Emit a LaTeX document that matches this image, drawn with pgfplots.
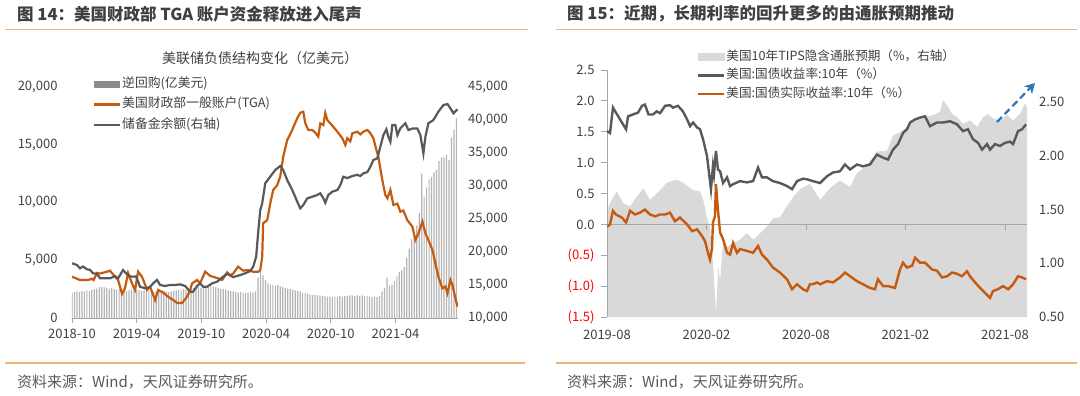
\documentclass[border=0pt]{standalone}
\usepackage{fontspec}
\setmainfont{Noto Sans CJK SC}
\usepackage{pgfplots}
\pgfplotsset{compat=1.18}
\usetikzlibrary{arrows.meta}
\definecolor{tforange}{HTML}{C55A11}
\definecolor{tfgrey}{HTML}{595959}
\definecolor{barg}{HTML}{B4B4B4}
\definecolor{barleg}{HTML}{8C8C8C}
\definecolor{areag}{HTML}{D9D9D9}
\definecolor{rulec}{HTML}{F0B478}
\definecolor{txt}{HTML}{404040}
\definecolor{axg}{HTML}{A6A6A6}
\definecolor{arrowblue}{HTML}{2E75B6}
\definecolor{negred}{HTML}{FF0000}
\pgfplotsset{
  base/.style={scale only axis, /pgf/number format/assume math mode=true,
    tick label style={font=\fontsize{13}{13}\selectfont, text=txt},
    scaled y ticks=false, scaled x ticks=false},
  patchleg/.style={legend image code/.code={\fill[#1] (0pt,-3.5pt) rectangle (26pt,3.5pt);}},
  lineleg/.style={legend image code/.code={\draw[##1] (0pt,0pt) -- (26pt,0pt);}},
}
\begin{document}
\begin{tikzpicture}[x=1pt,y=1pt]
\path[use as bounding box] (0,0) rectangle (1080,-396);
% titles and rules
\node[anchor=west, inner sep=0, text=txt, font=\fontsize{16.5}{18}\selectfont\bfseries] at (17,-14) {图 14：美国财政部 TGA 账户资金释放进入尾声};
\node[anchor=west, inner sep=0, text=txt, font=\fontsize{16.5}{18}\selectfont\bfseries] at (567,-14) {图 15：近期，长期利率的回升更多的由通胀预期推动};
\draw[rulec, line width=1.8pt] (5,-29.5) -- (528,-29.5);
\draw[rulec, line width=1.8pt] (556,-29.5) -- (1077,-29.5);
\draw[rulec, line width=2pt] (5,-363) -- (525,-363);
\draw[rulec, line width=2pt] (556,-363) -- (1077,-363);
\node[anchor=west, inner sep=0, text=tfgrey, font=\fontsize{15}{16}\selectfont] at (17,-382) {资料来源：Wind，天风证券研究所。};
\node[anchor=west, inner sep=0, text=tfgrey, font=\fontsize{15}{16}\selectfont] at (567,-382) {资料来源：Wind，天风证券研究所。};
\node[inner sep=0, text=txt, font=\fontsize{14}{15}\selectfont] at (260,-58) {美联储负债结构变化（亿美元）};

% ===== Left chart, left axis =====
\begin{axis}[base,
  at={(72pt,-318pt)}, anchor=south west, width=386pt, height=231pt,
  xmin=0, xmax=35.8, ymin=0, ymax=20000,
  axis x line*=bottom, axis y line*=left,
  y axis line style={draw=none},
  x axis line style={draw=axg, line width=1pt},
  tick align=outside, major tick length=5pt,
  xtick={0,6,12,18,24,30},
  xticklabels={2018-10,2019-04,2019-10,2020-04,2020-10,2021-04},
  xtick style={draw=axg, line width=0.8pt},
  xticklabel style={yshift=-3pt},
  ytick={0,5000,10000,15000,20000},
  ytick style={draw=none},
  yticklabel style={/pgf/number format/fixed, /pgf/number format/1000 sep={,}, xshift=-6pt},
  legend style={at={(0.054,1.045)}, anchor=north west, draw=none, fill=none,
    font=\fontsize{12.8}{14}\selectfont, text=txt, inner sep=0pt, row sep=6pt,
    nodes={inner sep=1pt, text height=9.5pt, text depth=3pt}},
  legend cell align=left,
]
\addplot[ybar, bar width=1.2pt, fill=barg, draw=none, patchleg=barleg] coordinates {
(0.00,2200)(0.23,2250)(0.46,2300)(0.69,2250)(0.92,2350)(1.15,2300)(1.38,2400)(1.61,2350)
(1.84,2450)(2.07,2500)(2.30,2550)(2.53,2650)(2.76,2700)(2.99,2650)(3.22,2600)(3.45,2550)
(3.68,2600)(3.91,2500)(4.14,2450)(4.37,2500)(4.60,2400)(4.83,2450)(5.06,2350)(5.29,2400)
(5.52,2450)(5.75,2400)(5.98,2450)(6.21,2400)(6.44,2350)(6.67,2400)(6.90,2300)(7.13,2350)
(7.36,2300)(7.59,2250)(7.82,2300)(8.05,2250)(8.28,2300)(8.51,2350)(8.74,2300)(8.97,2250)
(9.20,2300)(9.43,2350)(9.66,2400)(9.89,2450)(10.12,2400)(10.35,2500)(10.58,2450)(10.81,2500)
(11.04,2550)(11.27,2600)(11.50,2550)(11.73,2650)(11.96,2600)(12.19,2700)(12.42,2650)(12.65,2700)
(12.88,2750)(13.11,2700)(13.34,2650)(13.57,2600)(13.80,2550)(14.03,2500)(14.26,2450)(14.49,2400)
(14.72,2350)(14.95,2300)(15.18,2250)(15.41,2200)(15.64,2250)(15.87,2200)(16.10,2150)(16.33,2200)
(16.56,2250)(16.79,2200)(17.02,2300)(17.25,3500)(17.48,4200)(17.71,3700)(17.94,3300)(18.17,3000)
(18.40,2900)(18.63,2850)(18.86,2800)(19.09,2850)(19.32,2750)(19.55,2700)(19.78,2600)(20.01,2550)
(20.24,2500)(20.47,2450)(20.70,2400)(20.93,2350)(21.16,2300)(21.39,2200)(21.62,2150)(21.85,2100)
(22.08,2050)(22.31,2000)(22.54,2000)(22.77,1950)(23.00,1950)(23.23,1900)(23.46,1900)(23.69,1850)
(23.92,1850)(24.15,1800)(24.38,1850)(24.61,1850)(24.84,1900)(25.07,1850)(25.30,1900)(25.53,1900)
(25.76,1950)(25.99,1950)(26.22,1900)(26.45,1950)(26.68,1900)(26.91,1950)(27.14,1900)(27.37,1900)
(27.60,1850)(27.83,1800)(28.06,1850)(28.29,1800)(28.52,1900)(28.75,2300)(28.98,2600)(29.21,3500)
(29.44,2800)(29.67,2900)(29.90,3200)(30.13,3600)(30.36,4000)(30.59,4150)(30.82,4400)(31.05,5200)
(31.28,6000)(31.51,6800)(31.74,7400)(31.97,8000)(32.20,9100)(32.43,12500)(32.66,10500)(32.89,11300)
(33.12,12000)(33.35,12200)(33.58,12600)(33.81,12800)(34.04,13600)(34.27,13900)(34.50,13900)(34.73,14100)
(34.96,13700)(35.19,15600)(35.42,16300)(35.65,17300)
};
\addlegendentry{逆回购(亿美元)}
\addplot[tforange, line width=2.2pt, lineleg] coordinates {
(0,3575)(0.74,3290)(1.49,3290)(1.86,3400)(2.00,3290)(2.32,3900)(2.60,3850)(3.25,4010)(3.53,4100)
(3.99,3560)(4.27,3300)(4.64,2080)(4.92,2600)(5.20,3900)(5.66,2770)(5.85,2430)(6.13,4010)(6.50,3560)
(6.96,2430)(7.24,2700)(7.71,1560)(7.99,2430)(8.45,2200)(8.91,1850)(9.38,1560)(9.75,1300)(10.21,1300)
(10.68,1850)(10.96,2430)(11.14,3000)(11.61,3290)(11.88,3000)(12.35,4010)(12.81,3650)(13.46,3460)
(13.93,3300)(14.39,3950)(14.67,3700)(14.95,3850)(15.41,4440)(15.88,4100)(16.34,4150)(16.81,4000)
(17.27,4000)(17.46,4150)(17.64,5300)(17.73,8200)(18.11,8480)(18.38,9900)(18.66,11080)(19.03,11500)
(19.31,12230)(19.59,13960)(19.96,15400)(20.43,16280)(20.52,16500)(20.89,17300)(21.17,17770)(21.45,17860)
(21.63,16880)(21.91,16280)(22.28,16280)(22.56,16050)(22.84,15700)(23.03,16850)(23.31,16700)(23.49,17750)
(23.68,17140)(23.96,16850)(24.23,16560)(24.61,16130)(25.07,15560)(25.35,14980)(25.53,15560)(25.81,15300)
(26.00,15990)(26.46,16130)(26.74,15900)(27.02,16130)(27.39,16280)(27.67,16000)(27.95,15560)(28.23,14550)
(28.41,13960)(28.78,11950)(29.06,10650)(29.25,10360)(29.53,11080)(29.81,9780)(30.18,9900)(30.45,9200)
(30.73,9300)(31.10,8480)(31.57,7900)(31.85,6750)(32.13,7330)(32.50,8340)(32.78,7330)(33.05,6750)
(33.43,5890)(33.70,4740)(33.98,3580)(34.35,2570)(34.63,2720)(34.82,2140)(35.10,3290)(35.28,2900)
(35.56,1700)(35.75,980)
};
\addlegendentry{美国财政部一般账户(TGA)}
\addlegendimage{tfgrey, line width=2.2pt, lineleg}
\addlegendentry{储备金余额(右轴)}
\end{axis}

% ===== Left chart, right axis =====
\begin{axis}[base,
  at={(72pt,-318pt)}, anchor=south west, width=386pt, height=231pt,
  xmin=0, xmax=35.8, ymin=10000, ymax=45000,
  hide x axis, axis y line*=right,
  y axis line style={draw=none}, ytick style={draw=none},
  tick align=outside, major tick length=5pt,
  ytick={10000,15000,20000,25000,30000,35000,40000,45000},
  yticklabel style={/pgf/number format/fixed, /pgf/number format/1000 sep={,}, xshift=1.5pt},
]
\addplot[tfgrey, line width=2.2pt] coordinates {
(0,18290)(0.46,18030)(0.74,17530)(1.02,17800)(1.39,17380)(1.67,17300)(1.95,16770)(2.32,16700)
(2.60,16010)(3.06,16010)(3.53,16010)(3.99,16360)(4.27,16010)(4.74,17270)(5.01,16770)(5.39,16300)
(5.66,16260)(5.94,16300)(6.31,14740)(6.78,14500)(7.24,14700)(7.52,15250)(7.89,15760)(8.17,15000)
(8.63,14850)(9.10,15000)(9.56,15000)(10.03,15100)(10.49,14850)(10.96,13990)(11.23,13990)(11.61,14850)
(11.88,15250)(12.16,14750)(12.53,14750)(13.00,15250)(13.46,15500)(14.02,16260)(14.39,16700)(14.95,16200)
(15.60,16510)(16.06,16770)(16.53,17120)(16.81,17780)(17.08,19290)(17.27,23000)(17.46,26360)(17.64,27370)
(17.92,30400)(18.38,31410)(18.85,32420)(19.31,33030)(19.59,32420)(19.96,30900)(20.43,29390)(20.89,27620)
(21.17,26620)(21.45,27120)(21.82,28130)(22.28,28380)(22.75,28640)(23.03,28900)(23.31,28130)(23.49,27470)
(23.77,28640)(24.14,29140)(24.61,29390)(24.89,30150)(25.16,31410)(25.53,31200)(26.00,31510)(26.46,31700)
(26.74,31510)(27.02,31920)(27.39,32100)(27.67,32920)(27.95,33940)(28.32,34200)(28.60,35960)(28.88,37720)
(29.16,38580)(29.34,37470)(29.53,36710)(29.71,39240)(29.99,39240)(30.18,37720)(30.45,38740)(30.92,39500)
(31.20,38480)(31.57,38700)(32.03,38700)(32.31,37720)(32.59,34950)(32.78,37470)(33.05,39500)(33.52,40000)
(33.98,41260)(34.45,42270)(34.82,42420)(35.10,41770)(35.38,41010)(35.75,41620)
};
\end{axis}

% ===== Right chart, right axis (area) =====
\begin{axis}[base,
  at={(607pt,-317pt)}, anchor=south west, width=420pt, height=247pt,
  xmin=0, xmax=25.33, ymin=0.5, ymax=2.8,
  hide x axis, axis y line*=right,
  y axis line style={draw=none}, ytick style={draw=none},
  tick align=outside, major tick length=6pt,
  ytick={0.5,1.0,1.5,2.0,2.5},
  yticklabel style={/pgf/number format/fixed, /pgf/number format/fixed zerofill, /pgf/number format/precision=2, xshift=2.5pt},
]
\addplot[fill=areag, draw=none] coordinates {
(0,0.5)(0,1.50)(0.28,1.59)(0.58,1.67)(0.98,1.56)(1.39,1.53)(1.79,1.62)(2.19,1.70)(2.59,1.59)(3.20,1.68)
(3.60,1.75)(4.00,1.77)(4.20,1.78)(4.60,1.75)(5.21,1.68)(5.61,1.67)(5.81,1.59)(6.01,1.43)(6.21,1.34)
(6.41,0.97)(6.57,0.54)(6.71,0.97)(6.82,0.84)(7.01,1.22)(7.22,1.15)(7.62,1.19)(8.02,1.22)(8.43,1.28)
(8.82,1.22)(9.23,1.28)(9.63,1.34)(10.03,1.42)(10.43,1.43)(10.84,1.53)(11.24,1.62)(11.64,1.69)
(12.24,1.74)(12.85,1.59)(13.45,1.70)(14.05,1.77)(14.66,1.71)(15.08,1.84)(15.68,1.91)(16.28,2.04)
(16.89,2.05)(17.25,2.19)(17.67,2.22)(18.09,2.27)(18.58,2.35)(19.06,2.36)(19.66,2.38)(20.08,2.41)
(20.27,2.52)(20.51,2.47)(20.81,2.39)(21.11,2.36)(21.47,2.30)(21.89,2.33)(22.32,2.27)(22.68,2.36)
(22.98,2.39)(23.28,2.35)(23.70,2.33)(24.13,2.38)(24.49,2.33)(24.91,2.39)(25.21,2.49)(25.33,2.45)(25.33,0.5)
};
\end{axis}

% ===== Right chart, left axis (lines) =====
\begin{axis}[base,
  at={(607pt,-317pt)}, anchor=south west, width=420pt, height=247pt,
  xmin=0, xmax=25.33, ymin=-1.5, ymax=2.5,
  axis x line*=middle, axis y line*=left, hide obscured x ticks=false,
  y axis line style={draw=axg, line width=1pt},
  x axis line style={draw=axg, line width=1.3pt, -},
  tick align=outside, major tick length=6pt,
  xtick={0,6,12,18,24},
  xticklabels={2019-08,2020-02,2020-08,2021-02,2021-08},
  xtick style={draw=axg, line width=0.8pt},
  ytick style={draw=axg, line width=0.8pt},
  xticklabel style={yshift=-96pt},
  ytick={-1.5,-1,-0.5,0,0.5,1,1.5,2,2.5},
  yticklabels={\textcolor{negred}{(1.5)},\textcolor{negred}{(1.0)},\textcolor{negred}{(0.5)},0.0,0.5,1.0,1.5,2.0,2.5},
  yticklabel style={xshift=-3pt},
  legend style={at={(0.214,1.083)}, anchor=north west, draw=none, fill=none,
    font=\fontsize{12.6}{14}\selectfont, text=txt, inner sep=0pt, row sep=4pt,
    nodes={inner sep=1pt, text height=9.5pt, text depth=3pt}},
  legend cell align=left,
]
\addlegendimage{patchleg=areag}
\addlegendentry{美国10年TIPS隐含通胀预期（\%，右轴）}
\addplot[tfgrey, line width=2.4pt, lineleg] coordinates {
(0,1.51)(0.18,1.48)(0.36,1.89)(0.54,1.81)(0.90,1.65)(1.15,1.54)(1.27,1.75)(1.57,1.78)(1.87,1.81)
(2.11,1.92)(2.29,1.94)(2.50,1.78)(2.77,1.78)(3.00,1.83)(3.20,1.80)(3.50,1.92)(3.80,1.93)(3.98,1.89)
(4.28,1.92)(4.58,1.83)(4.83,1.70)(5.01,1.59)(5.19,1.65)(5.43,1.57)(5.61,1.54)(5.79,1.38)(6.03,1.11)
(6.15,0.84)(6.27,0.57)(6.39,0.94)(6.45,0.81)(6.57,1.19)(6.69,0.89)(6.82,0.86)(7.00,0.67)(7.24,0.76)
(7.42,0.62)(7.60,0.65)(8.02,0.70)(8.44,0.68)(8.81,0.70)(9.11,0.92)(9.35,0.76)(9.65,0.76)(10.01,0.70)
(10.43,0.67)(10.86,0.62)(11.16,0.57)(11.46,0.70)(11.82,0.74)(12.06,0.73)(12.42,0.70)(12.85,0.67)
(13.27,0.78)(13.63,0.84)(14.05,0.86)(14.35,0.97)(14.66,0.89)(15.08,0.97)(15.44,0.94)(15.86,0.97)
(16.28,1.13)(16.65,1.08)(16.95,1.05)(17.25,1.21)(17.55,1.30)(17.85,1.48)(18.09,1.54)(18.28,1.65)
(18.58,1.70)(18.88,1.73)(19.18,1.75)(19.48,1.59)(19.90,1.65)(20.27,1.65)(20.69,1.67)(21.11,1.62)
(21.47,1.51)(21.77,1.54)(22.07,1.38)(22.38,1.32)(22.62,1.21)(22.92,1.30)(23.10,1.21)(23.40,1.30)
(23.70,1.27)(24.00,1.32)(24.31,1.34)(24.49,1.30)(24.79,1.51)(25.03,1.54)(25.27,1.62)
};
\addlegendentry{美国:国债收益率:10年（\%）}
\addplot[tforange, line width=2.4pt, lineleg] coordinates {
(0,-0.04)(0.18,0.00)(0.36,0.22)(0.54,0.16)(0.90,0.11)(1.15,0.03)(1.39,0.22)(1.69,0.16)(1.99,0.19)
(2.29,0.24)(2.59,0.16)(2.90,0.13)(3.20,0.16)(3.50,0.16)(3.80,0.19)(4.10,0.05)(4.40,0.11)(4.83,0.00)
(5.13,-0.11)(5.43,-0.08)(5.73,-0.19)(5.91,-0.27)(6.09,-0.46)(6.21,-0.57)(6.33,-0.40)(6.39,0.03)
(6.51,0.13)(6.57,0.65)(6.69,0.24)(6.82,-0.13)(7.00,-0.24)(7.24,-0.46)(7.42,-0.49)(7.60,-0.30)
(7.84,-0.46)(8.02,-0.40)(8.44,-0.43)(8.81,-0.46)(9.11,-0.35)(9.35,-0.49)(9.65,-0.57)(10.01,-0.70)
(10.43,-0.78)(10.86,-0.89)(11.16,-1.05)(11.46,-0.97)(11.82,-1.05)(12.06,-1.08)(12.24,-0.97)(12.42,-0.97)
(12.67,-0.94)(12.85,-0.97)(13.27,-0.92)(13.63,-0.94)(14.05,-0.86)(14.35,-0.78)(14.66,-0.84)(15.08,-0.92)
(15.44,-0.97)(15.86,-1.03)(16.16,-1.05)(16.34,-0.89)(16.65,-1.00)(16.95,-1.00)(17.37,-1.03)(17.67,-0.73)
(17.85,-0.62)(18.09,-0.70)(18.40,-0.67)(18.58,-0.54)(18.88,-0.62)(19.18,-0.62)(19.60,-0.73)(19.90,-0.75)
(20.21,-0.86)(20.51,-0.84)(20.81,-0.78)(21.11,-0.80)(21.41,-0.84)(21.71,-0.76)(21.89,-0.84)(22.20,-0.94)
(22.50,-1.03)(22.80,-1.11)(23.10,-1.19)(23.28,-1.08)(23.58,-1.05)(23.88,-1.00)(24.19,-1.05)(24.49,-0.97)
(24.79,-0.84)(25.03,-0.86)(25.27,-0.89)
};
\addlegendentry{美国:国债实际收益率:10年（\%）}
\end{axis}

\draw[arrowblue, line width=2.2pt, dash pattern=on 7pt off 4pt, -{Stealth[length=10pt,width=11pt,inset=3pt]}] (997,-122) -- (1035,-83);
\end{tikzpicture}
\end{document}
